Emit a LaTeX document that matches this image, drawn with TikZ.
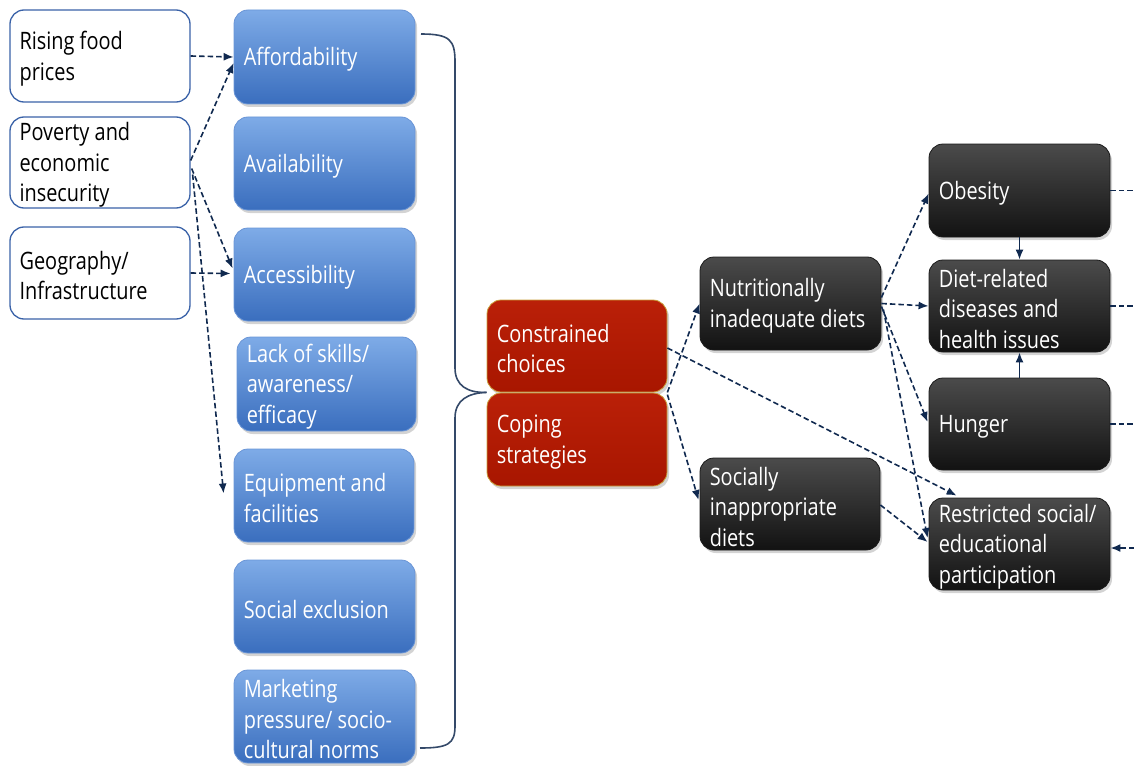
\documentclass[tikz,border=0pt]{standalone}
\usepackage{fontspec}
\setmainfont{Open Sans}[FakeStretch=0.83]
\usetikzlibrary{arrows.meta,calc,shadows}
\definecolor{navy}{HTML}{10294F}
\definecolor{wborder}{HTML}{3A62A8}
\definecolor{btop}{HTML}{7EABE7}
\definecolor{bbot}{HTML}{3A6EBE}
\definecolor{bborder}{HTML}{6A95D6}
\definecolor{rtop}{HTML}{BA2008}
\definecolor{rbot}{HTML}{A81600}
\definecolor{rborder}{HTML}{C9A03A}
\definecolor{ktop}{HTML}{4B4B4B}
\definecolor{kbot}{HTML}{121212}
\definecolor{kborder}{HTML}{1A1A1A}
\newcommand\diabox[7]{%
  \node[#2, minimum width=#5, minimum height=#6] (#1) at (#4) {};
  \node[txt, text=#3, anchor=west] (#1-t) at ([xshift=10pt,yshift=-2.5pt]#1.west) {#7};}
\begin{document}
\begin{tikzpicture}[x=1pt,y=-1pt,
  base/.style={rounded corners=14pt, inner sep=0pt},
  shad/.style={drop shadow={opacity=0.35, shadow xshift=2pt, shadow yshift=-3pt}},
  wbox/.style={base, draw=wborder, line width=1.3pt, fill=white},
  bbox/.style={base, shad, draw=bborder, line width=0.8pt, top color=btop, bottom color=bbot},
  rbox/.style={base, shad, draw=rborder, line width=0.8pt, top color=rtop, bottom color=rbot},
  kbox/.style={base, shad, draw=kborder, line width=0.8pt, top color=ktop, bottom color=kbot},
  txt/.style={inner sep=0pt, align=left, font=\fontsize{24}{30.5}\selectfont},
  dline/.style={draw=navy, line width=1.6pt, dash pattern=on 5.5pt off 3pt},
  dar/.style={dline, -{Latex[length=10pt,width=8pt]}},
  sar/.style={draw=navy, line width=1.6pt, -{Latex[length=10pt,width=8pt]}},
  brace/.style={draw=navy!85!white, line width=1.6pt},
]
\useasboundingbox (0,0) rectangle (1134,765);

% left causes
\diabox{rising}{wbox}{black}{100,56}{180}{92}{Rising food\\prices}
\diabox{poverty}{wbox}{black}{100,162.5}{180}{91}{Poverty and\\economic\\insecurity}
\diabox{geo}{wbox}{black}{100,273}{180}{92}{Geography/\\Infrastructure}

% blue factors
\diabox{aff}{bbox}{white}{324.5,57}{181}{94}{Affordability}
\diabox{avail}{bbox}{white}{324.5,163.5}{181}{93}{Availability}
\diabox{access}{bbox}{white}{324.5,274.5}{181}{93}{Accessibility}
\diabox{lack}{bbox}{white}{326.5,384}{179}{94}{Lack of skills/\\awareness/\\efficacy}
\diabox{equip}{bbox}{white}{324,495.5}{180}{93}{Equipment and\\facilities}
\diabox{social}{bbox}{white}{324.5,606.5}{181}{93}{Social exclusion}
\diabox{market}{bbox}{white}{324.5,716.5}{181}{93}{Marketing\\pressure/ socio-\\cultural norms}

% red
\diabox{constr}{rbox}{white}{577,346}{180}{92}{Constrained\\choices}
\diabox{coping}{rbox}{white}{577,439.5}{180}{93}{Coping\\strategies}

% black
\diabox{nutri}{kbox}{white}{790.5,303.5}{181}{93}{Nutritionally\\inadequate diets}
\diabox{socially}{kbox}{white}{790,504}{180}{92}{Socially\\inappropriate\\diets}
\diabox{obes}{kbox}{white}{1019.5,190.5}{181}{93}{Obesity}
\diabox{diet}{kbox}{white}{1019.5,306}{181}{92}{Diet-related\\diseases and\\health issues}
\diabox{hunger}{kbox}{white}{1019.5,424}{181}{92}{Hunger}
\diabox{restr}{kbox}{white}{1019.5,544}{181}{92}{Restricted social/\\educational\\participation}

% brace
\coordinate (b1) at (421,34);
\coordinate (b2) at (420,748);
\draw[brace] (b1) .. controls (450,34) and (455,40) .. (455,62) -- (455,368)
  .. controls (455,386) and (468,393) .. (constr.south west);
\draw[brace] (constr.south west) .. controls (468,393) and (455,400) .. (455,418) -- (455,726)
  .. controls (455,744) and (448,748) .. (b2);

% left arrows
\coordinate (eqend) at ($(equip.west)+(-10,-2)$);
\draw[dar] (rising.east) -- (aff.west);
\draw[dar] ($(poverty.east)+(0,-2)$) -- ($(aff.west)+(0,6)$);
\draw[dar] ($(poverty.east)+(1,6)$) -- ($(access.west)+(-1,-6)$);
\draw[dar] ($(poverty.east)+(2,12)$) -- (eqend);
\draw[dar] (geo.east) -- ($(access.west)+(-3,-1)$);

% middle arrows
\draw[dar] (constr.south east) -- (nutri.west);
\draw[dar] ($(coping.north east)+(0,2)$) -- ($(socially.west)+(-1,-4)$);
\draw[dar] ($(constr.east)+(0,2)$) -- ($(restr.north west)+(28,-2)$);
\draw[dar] ($(nutri.east)+(0,-6)$) -- ($(obes.west)+(0,3)$);
\draw[dar] (nutri.east) -- (diet.west);
\draw[dar] ($(nutri.east)+(0,3)$) -- ($(hunger.west)+(-1,-2)$);
\draw[dar] ($(nutri.east)+(2,6)$) -- ($(restr.west)+(-1,-6)$);
\draw[dar] ($(socially.east)+(0,1)$) -- ($(restr.west)+(-1,-2)$);
\draw[sar] (obes.south) -- (diet.north);
\draw[sar] (hunger.north) -- (diet.south);

% right edge
\coordinate (e1) at (1134,190.5);
\coordinate (e2) at (1134,306);
\coordinate (e3) at (1134,424);
\coordinate (e4) at (1134,548);
\draw[dline] (obes.east) -- (e1);
\draw[dline] (diet.east) -- (e2);
\draw[dline] (hunger.east) -- (e3);
\draw[dar] (e4) -- ($(restr.east)+(0,4)$);
\end{tikzpicture}
\end{document}
